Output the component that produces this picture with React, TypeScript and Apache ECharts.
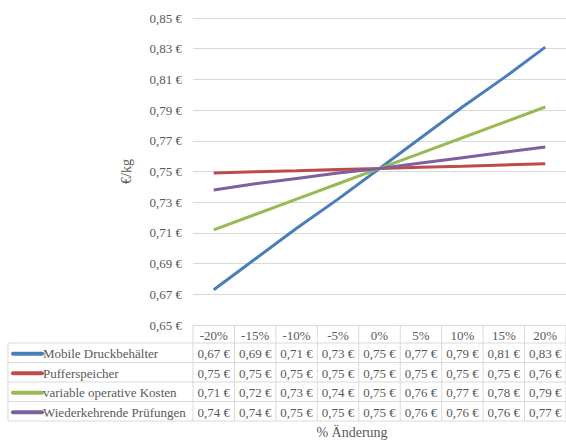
import React, { useEffect, useRef } from "react";
import * as echarts from "echarts";

// Sensitivity of the cost per kg to a change of each input parameter
const categories = ["-20%", "-15%", "-10%", "-5%", "0%", "5%", "10%", "15%", "20%"];
const seriesNames = [
  "Mobile Druckbehälter",
  "Pufferspeicher",
  "variable operative Kosten",
  "Wiederkehrende Prüfungen",
];
const mobileDruckbehaelter = [0.673, 0.693, 0.713, 0.732, 0.752, 0.772, 0.792, 0.811, 0.831];
const pufferspeicher = [0.749, 0.7498, 0.7505, 0.7513, 0.752, 0.7528, 0.7535, 0.7543, 0.7551];
const variableKosten = [0.712, 0.722, 0.732, 0.742, 0.752, 0.762, 0.772, 0.782, 0.792];
const wiederkehrendePruefungen = [0.738, 0.742, 0.7455, 0.749, 0.752, 0.7555, 0.759, 0.7625, 0.766];
const seriesValues = [mobileDruckbehaelter, pufferspeicher, variableKosten, wiederkehrendePruefungen];
const seriesColors = ["#4A7EBB", "#BE4B48", "#98B954", "#7D60A0"];

const yMin = 0.65;
const yMax = 0.85;
const yStep = 0.02;

const FONT = "Liberation Serif";
const TEXT = "#595959";
const BORDER = "#D9D9D9";

const euro = (v: number) => v.toFixed(2).replace(".", ",") + " €";

export default function App() {
  const ref = useRef<HTMLDivElement>(null);

  useEffect(() => {
    if (!ref.current) return;
    const chart = echarts.init(ref.current, null, { renderer: "svg" });

    chart.setOption({
      animation: false,
      backgroundColor: "#fff",
      textStyle: { fontFamily: FONT },
      grid: { left: 193, top: 18, width: 375, height: 307, containLabel: false },
      xAxis: {
        type: "category",
        data: categories,
        boundaryGap: true,
        axisLabel: { show: false },
        axisTick: { show: false },
        axisLine: { show: true, lineStyle: { color: BORDER, width: 1 } },
        splitLine: { show: false },
      },
      yAxis: {
        type: "value",
        min: yMin,
        max: yMax,
        interval: yStep,
        name: "€/kg",
        nameLocation: "middle",
        nameGap: 60,
        nameRotate: 90,
        nameTextStyle: { fontFamily: FONT, fontSize: 14, color: TEXT },
        axisLine: { show: false },
        axisTick: { show: false },
        axisLabel: {
          formatter: (v: number) => euro(v),
          fontFamily: FONT,
          fontSize: 13,
          color: TEXT,
          margin: 11,
        },
        splitLine: { lineStyle: { color: BORDER, width: 1 } },
      },
      series: seriesNames.map((name, i) => ({
        name,
        type: "line",
        data: seriesValues[i],
        symbol: "none",
        lineStyle: { color: seriesColors[i], width: 3 },
        itemStyle: { color: seriesColors[i] },
        z: 3,
      })),
    });

    // Data table under the plot, aligned with the category axis
    const xs = categories.map((_, i) => chart.convertToPixel({ xAxisIndex: 0 }, i) as number);
    const step = xs[1] - xs[0];
    const plotLeft = xs[0] - step / 2;
    const plotRight = xs[xs.length - 1] + step / 2;
    const tableTop = chart.convertToPixel({ yAxisIndex: 0 }, yMin) as number;
    const headerH = 18;
    const rowH = 19.5;
    const tableLeft = 8;
    const rowsTop = tableTop + headerH;
    const tableBottom = rowsTop + rowH * seriesNames.length;

    const g: any[] = [];
    const hLine = (x1: number, x2: number, y: number) =>
      g.push({ type: "line", shape: { x1, y1: y, x2, y2: y }, style: { stroke: BORDER, lineWidth: 1 }, silent: true });
    const vLine = (x: number, y1: number, y2: number) =>
      g.push({ type: "line", shape: { x1: x, y1, x2: x, y2 }, style: { stroke: BORDER, lineWidth: 1 }, silent: true });

    for (let r = 0; r <= seriesNames.length; r++) hLine(tableLeft, plotRight, rowsTop + r * rowH);
    vLine(tableLeft, rowsTop, tableBottom);
    for (let c = 0; c <= categories.length; c++) vLine(plotLeft + c * step, tableTop, tableBottom);

    categories.forEach((cat, c) => {
      g.push({
        type: "text",
        x: xs[c],
        y: tableTop + headerH / 2 + 1,
        style: { text: cat, fontFamily: FONT, fontSize: 13, fill: TEXT, align: "center", verticalAlign: "middle" },
        silent: true,
      });
    });

    seriesNames.forEach((name, r) => {
      const cy = rowsTop + r * rowH + rowH / 2 + 1;
      g.push({
        type: "line",
        shape: { x1: 13, y1: cy, x2: 42, y2: cy },
        style: { stroke: seriesColors[r], lineWidth: 4, lineCap: "round" },
        silent: true,
      });
      g.push({
        type: "text",
        x: 43,
        y: cy,
        style: { text: name, fontFamily: FONT, fontSize: 13, fill: TEXT, align: "left", verticalAlign: "middle" },
        silent: true,
      });
      seriesValues[r].forEach((v, c) => {
        g.push({
          type: "text",
          x: xs[c],
          y: cy,
          style: { text: euro(v), fontFamily: FONT, fontSize: 13, fill: TEXT, align: "center", verticalAlign: "middle" },
          silent: true,
        });
      });
    });

    g.push({
      type: "text",
      x: 352,
      y: 432,
      style: { text: "% Änderung", fontFamily: FONT, fontSize: 14, fill: TEXT, align: "center", verticalAlign: "middle" },
      silent: true,
    });

    chart.setOption({ graphic: g });

    return () => chart.dispose();
  }, []);

  return (
    <div
      ref={ref}
      style={{ position: "fixed", left: 0, top: 0, width: 566, height: 441, overflow: "hidden" }}
    />
  );
}
